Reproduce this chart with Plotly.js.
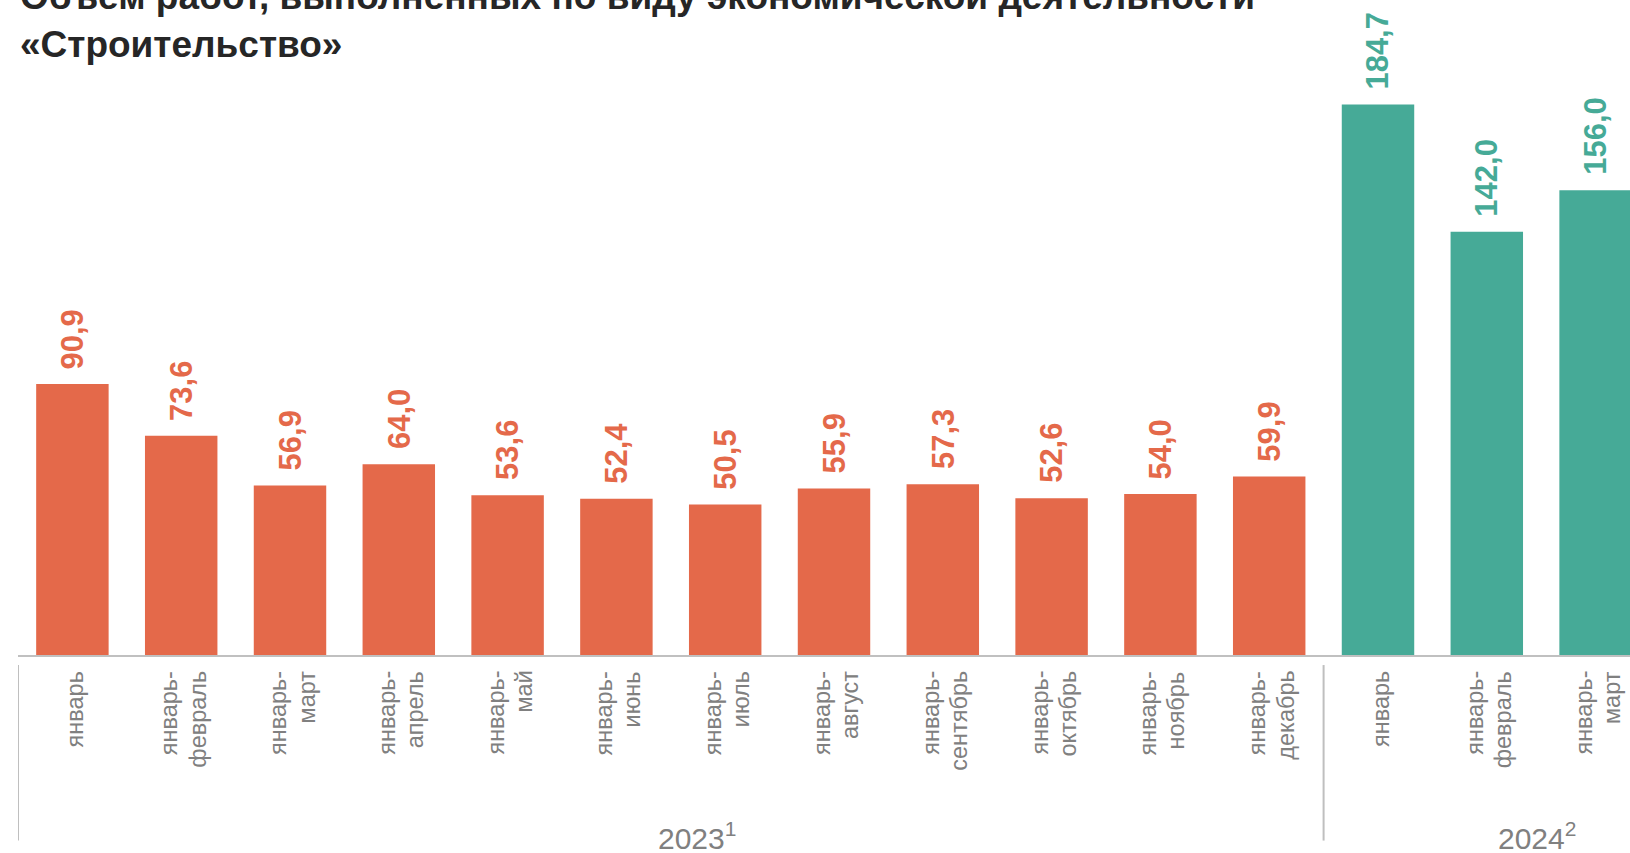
<!DOCTYPE html>
<html>
<head>
<meta charset="utf-8">
<script src="https://cdn.plot.ly/plotly-3.0.1.min.js"></script>
<style>
html,body{margin:0;padding:0;overflow:hidden;background:#fff;width:1630px;height:853px;}
#chart{width:1650px;height:853px;}
</style>
</head>
<body>
<div id="chart"></div>
<script>
// ---- data ----
const titleText = 'Объем работ, выполненных по виду экономической деятельности<br>«Строительство»';
const periods = ['январь','январь-|февраль','январь-|март','январь-|апрель','январь-|май','январь-|июнь','январь-|июль','январь-|август','январь-|сентябрь','январь-|октябрь','январь-|ноябрь','январь-|декабрь','январь','январь-|февраль','январь-|март'];
const values = [90.9, 73.6, 56.9, 64.0, 53.6, 52.4, 50.5, 55.9, 57.3, 52.6, 54.0, 59.9, 184.7, 142.0, 156.0];
const valueLabels = ['90,9','73,6','56,9','64,0','53,6','52,4','50,5','55,9','57,3','52,6','54,0','59,9','184,7','142,0','156,0'];
const years = ['2023<sup>1</sup>','2024<sup>2</sup>'];
const yearCounts = [12, 3];

// ---- styles ----
const yearColors = ['#E4694A','#46AA97'];
const FONT = '"Liberation Sans", Arial, sans-serif';
const GRAY = '#808080';

const xIdx = values.map((v,i)=>i);
const yearOf = [];
yearCounts.forEach((n,g)=>{for(let k=0;k<n;k++) yearOf.push(g);});
const barColors = yearOf.map(g=>yearColors[g]);

const trace = {
  type:'bar', x:xIdx, y:values,
  marker:{color:barColors, line:{width:0}},
  hoverinfo:'skip'
};

const annotations = [];
// value labels
values.forEach((v,i)=>{
  annotations.push({
    x:i, y:v, xref:'x', yref:'y', text:valueLabels[i], showarrow:false,
    textangle:-90, xanchor:'center', yanchor:'bottom', yshift:13,
    font:{family:FONT, size:31, color:yearColors[yearOf[i]], weight:'bold'}
  });
});
// category labels (rotated, each line separate)
periods.forEach((p,i)=>{
  const lines = p.split('|');
  const shifts = lines.length===1 ? [3] : [-12,16];
  lines.forEach((ln,k)=>{
    annotations.push({
      x:i, y:0, xref:'x', yref:'paper', text:ln, showarrow:false,
      textangle:-90, xanchor:'center', yanchor:'top', xshift:shifts[k], yshift:-14,
      font:{family:FONT, size:23.5, color:GRAY}
    });
  });
});
// year labels
let start = 0;
const yearShift = [26, 50];
years.forEach((yt,g)=>{
  const center = start + (yearCounts[g]-1)/2;
  annotations.push({
    x:center, y:0, xref:'x', yref:'paper', text:yt, showarrow:false,
    xanchor:'center', yanchor:'top', xshift:yearShift[g], yshift:-160,
    font:{family:FONT, size:30, color:GRAY}
  });
  start += yearCounts[g];
});
// title
annotations.push({
  x:0, y:1, xref:'paper', yref:'paper', text:titleText, showarrow:false,
  xanchor:'left', yanchor:'bottom', align:'left', yshift:-36,
  font:{family:FONT, size:37, color:'#262626', weight:'bold'}
});

// group dividers
const shapes = [];
let b = 0;
[0].concat(yearCounts).forEach((n,g)=>{
  b += n;
  shapes.push({type:'line', xref:'x', yref:'paper', x0:b-0.5, x1:b-0.5, y0:-0.0161, y1:-0.2974,
    line:{color:'#BFBFBF', width:2}});
});
shapes.pop();

const layout = {
  width:1650, height:853,
  margin:{l:18, r:0, t:31, b:198},
  paper_bgcolor:'#fff', plot_bgcolor:'#fff',
  bargap:0.334,
  showlegend:false,
  xaxis:{range:[-0.5, values.length-0.5], showticklabels:false, showgrid:false, zeroline:false,
    showline:true, linecolor:'#C0C0C0', linewidth:2, ticks:''},
  yaxis:{range:[0, 209.4], visible:false, showgrid:false, zeroline:false},
  annotations:annotations,
  shapes:shapes,
  font:{family:FONT}
};

Plotly.newPlot('chart',[trace],layout,{staticPlot:true, displayModeBar:false});
</script>
</body>
</html>
